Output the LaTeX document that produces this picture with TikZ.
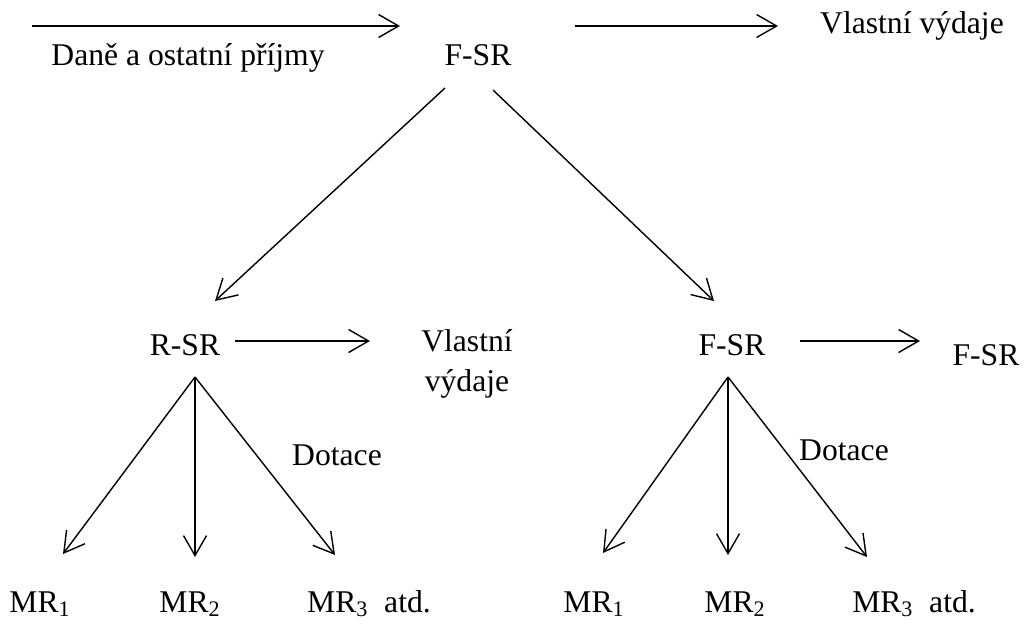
\documentclass[tikz,border=0pt]{standalone}
\usepackage{fontspec}
\setmainfont{Liberation Serif}
\usepackage{tikz}
\usetikzlibrary{positioning,arrows.meta}

\begin{document}
\begin{tikzpicture}[
  x=0.02cm, y=-0.02cm,
  lbl/.style={font=\fontsize{18}{23}\selectfont, inner sep=0pt, anchor=base},
  arr/.style={-{Straight Barb[length=0.4cm,width=0.46cm]}, line width=0.8pt}
]
  \useasboundingbox (0,0) rectangle (1028,623);
  % top row
  \node[lbl] (dane) at (188,65) {Daně a ostatní příjmy};
  \node[lbl] (fsr) at (478,65) {F-SR};
  \node[lbl] (vv) at (912,33) {Vlastní výdaje};
  \coordinate (in0) at (32,26);
  \coordinate (in1) at (400,26);
  \coordinate (out0) at (575,26);
  \coordinate (out1) at (778,26);
  \draw[arr] (in0) -- (in1);
  \draw[arr] (out0) -- (out1);
  % second level
  \node[lbl] (rsr) at (185,355) {R-SR};
  \node[lbl] (fsr2) at (732,355) {F-SR};
  \node[lbl, align=center, anchor=center] (vv2) at (467,364) {Vlastní\\výdaje};
  \node[lbl] (fsr3) at (986,365) {F-SR};
  \coordinate (fl) at (445,88);
  \coordinate (fr) at (493,90);
  \coordinate (rl) at (215,301);
  \coordinate (rr) at (714,301);
  \draw[arr] (fl) -- (rl);
  \draw[arr] (fr) -- (rr);
  \coordinate (ra0) at (235,341);
  \coordinate (ra1) at (370,341);
  \coordinate (fa0) at (800,341);
  \coordinate (fa1) at (920,341);
  \draw[arr] (ra0) -- (ra1);
  \draw[arr] (fa0) -- (fa1);
  % left tree
  \coordinate (ltop) at (195,377);
  \node[lbl] (dotl) at (337,465) {Dotace};
  \node[lbl] (mrl1) at (40,612) {MR\textsubscript{1}};
  \node[lbl] (mrl2) at (190,612) {MR\textsubscript{2}};
  \node[lbl] (mrl3) at (369,612) {MR\textsubscript{3}\enspace atd.};
  \coordinate (le1) at (63,554);
  \coordinate (le2) at (195,557);
  \coordinate (le3) at (335,555);
  \foreach \e in {le1,le2,le3}
    \draw[arr] (ltop) -- (\e);
  % right tree
  \coordinate (rtop) at (728,377);
  \node[lbl] (dotr) at (844,460) {Dotace};
  \node[lbl] (mrr1) at (594,612) {MR\textsubscript{1}};
  \node[lbl] (mrr2) at (735,612) {MR\textsubscript{2}};
  \node[lbl] (mrr3) at (914,612) {MR\textsubscript{3}\enspace atd.};
  \coordinate (re1) at (603,553);
  \coordinate (re2) at (728,555);
  \coordinate (re3) at (867,557);
  \foreach \e in {re1,re2,re3}
    \draw[arr] (rtop) -- (\e);
\end{tikzpicture}
\end{document}
